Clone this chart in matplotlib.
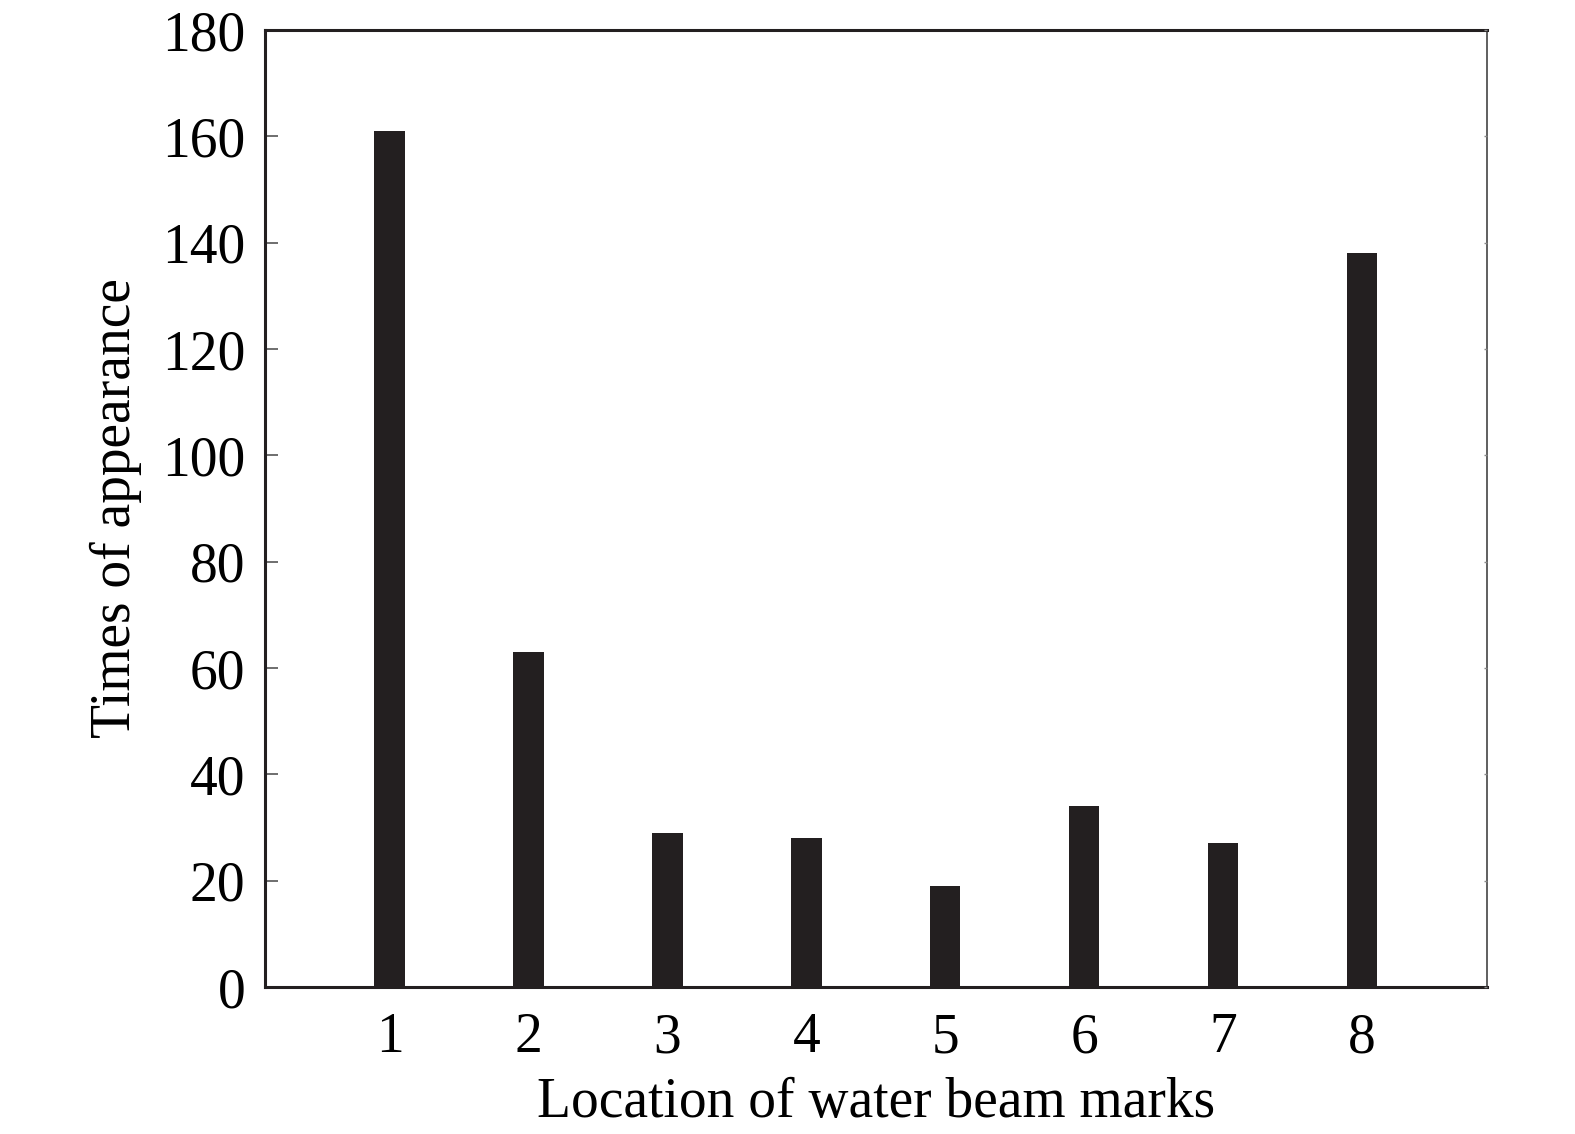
import numpy as np
import matplotlib.pyplot as plt

# data
locations = [1, 2, 3, 4, 5, 6, 7, 8]
counts = [161, 63, 29, 28, 19, 34, 27, 138]
yticks = [0, 20, 40, 60, 80, 100, 120, 140, 160, 180]

plt.rcParams['font.family'] = ['Liberation Serif', 'DejaVu Serif']

fig = plt.figure(figsize=(15.75, 11.34), dpi=100)
ax = fig.add_axes([0.168, 0.1296, 0.776, 0.8439])

ax.bar(locations, counts, width=0.22, color='#231f20', zorder=3)

ax.set_xlim(0.1, 8.9)
ax.set_ylim(0, 180)
ax.set_xticks(locations)
ax.set_yticks(yticks)
ax.tick_params(axis='x', length=0, pad=18, labelsize=40)
ax.tick_params(axis='y', direction='in', length=9, width=1.2, color='#555555',
               labelsize=40, pad=14)

# small ticks on the right side
ax2 = ax.twinx()
ax2.set_ylim(0, 180)
ax2.set_yticks(yticks)
ax2.tick_params(axis='y', direction='in', length=2, width=1, color='#888888',
                labelright=False)

for name in ['left', 'top', 'bottom']:
    ax.spines[name].set_linewidth(2.2)
    ax.spines[name].set_color('#231f20')
ax.spines['right'].set_linewidth(1.2)
ax.spines['right'].set_color('#444444')
for name in ax2.spines:
    ax2.spines[name].set_visible(False)

ax.set_xlabel('Location of water beam marks', fontsize=40, labelpad=9)
ax.set_ylabel('Times of appearance', fontsize=40, labelpad=14)

fig.savefig('out.png', dpi=100)
